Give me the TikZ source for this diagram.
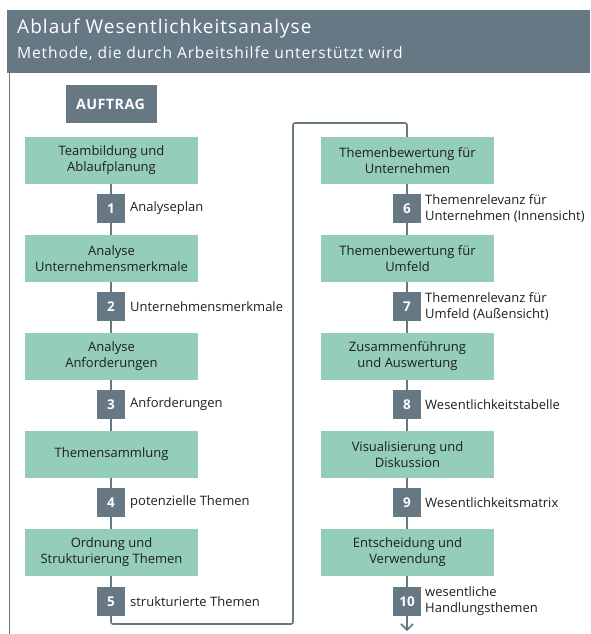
\documentclass[tikz,border=0pt]{standalone}
\usepackage{fontspec}
\setmainfont{Open Sans}
\newfontfamily\hdrfont[LetterSpace=5.5]{Open Sans}
\newfontfamily\aufont[LetterSpace=3]{Open Sans}
\usetikzlibrary{arrows.meta}
\definecolor{hdr}{HTML}{657884}
\definecolor{grn}{HTML}{94CDB8}
\definecolor{txt}{HTML}{1E1E1E}
\tikzset{
  stepbox/.style={fill=grn, minimum width=173pt, minimum height=47pt, inner sep=0pt, align=center, text=txt, font=\fontsize{13}{16}\selectfont},
  badge/.style={fill=hdr, minimum width=28pt, minimum height=29pt, inner sep=0pt, text=white, font=\fontsize{13.5}{15}\selectfont\bfseries},
  lbl/.style={anchor=west, inner sep=0pt, align=left, text=txt, font=\fontsize{13}{16}\selectfont},
  conn/.style={draw=hdr, line width=1.6pt},
}
\begin{document}
\begin{tikzpicture}[x=1pt,y=-1pt]
\useasboundingbox (0,0) rectangle (590,634);
\fill[hdr] (7,10) rectangle (590,73);
\node[anchor=base west, inner sep=0pt, text=white, font=\hdrfont\fontsize{19}{21}\selectfont] (title) at (17,34) {Ablauf Wesentlichkeitsanalyse};
\node[anchor=base west, inner sep=0pt, text=white, font=\hdrfont\fontsize{15.6}{17}\selectfont] (sub) at (17,58.3) {Methode, die durch Arbeitshilfe unterstützt wird};
\draw[conn, line width=1.4pt] (9.5,73) -- (9.5,634);
\fill[hdr] (66,85) rectangle (157,123);
\node[anchor=base, inner sep=0pt, text=white, font=\aufont\fontsize{14.3}{16}\selectfont\bfseries] (auftrag) at (110.5,109.7) {AUFTRAG};
% left column
\node[stepbox] (s1) at (111.5,160.5) {Teambildung und\\Ablaufplanung};
\node[stepbox] (s2) at (111.5,258.5) {Analyse\\Unternehmensmerkmale};
\node[stepbox] (s3) at (111.5,356.5) {Analyse\\Anforderungen};
\node[stepbox] (s4) at (111.5,454.5) {Themensammlung};
\node[stepbox] (s5) at (111.5,552.5) {Ordnung und\\Strukturierung Themen};
% right column
\node[stepbox] (s6) at (407.5,160.5) {Themenbewertung für\\Unternehmen};
\node[stepbox] (s7) at (407.5,258.5) {Themenbewertung für\\Umfeld};
\node[stepbox] (s8) at (407.5,356.5) {Zusammenführung\\und Auswertung};
\node[stepbox] (s9) at (407.5,454.5) {Visualisierung und\\Diskussion};
\node[stepbox] (s10) at (407.5,552.5) {Entscheidung und\\Verwendung};
% connectors
\coordinate (c1) at (111,624);
\coordinate (c2) at (293,624);
\coordinate (c3) at (293,123);
\coordinate (c4) at (407,123);
\coordinate (end) at (407,631);
\draw[conn] (s1.south -| 111,0) -- (s2.north -| 111,0);
\draw[conn] (s2.south -| 111,0) -- (s3.north -| 111,0);
\draw[conn] (s3.south -| 111,0) -- (s4.north -| 111,0);
\draw[conn] (s4.south -| 111,0) -- (s5.north -| 111,0);
\draw[conn, rounded corners=2pt] (s5.south -| 111,0) -- (c1) -- (c2) -- (c3) -- (c4) -- (s6.north -| 407,0);
\draw[conn] (s6.south -| 407,0) -- (s7.north -| 407,0);
\draw[conn] (s7.south -| 407,0) -- (s8.north -| 407,0);
\draw[conn] (s8.south -| 407,0) -- (s9.north -| 407,0);
\draw[conn] (s9.south -| 407,0) -- (s10.north -| 407,0);
\draw[conn, -{Straight Barb[length=6pt,width=12pt,line width=1.6pt]}] (s10.south -| 407,0) -- (end);
% badges
\node[badge] (b1) at (111,208.5) {1};
\node[badge] (b2) at (111,306.5) {2};
\node[badge] (b3) at (111,404.5) {3};
\node[badge] (b4) at (111,502.5) {4};
\node[badge] (b5) at (111,601.5) {5};
\node[badge] (b6) at (407,208.5) {6};
\node[badge] (b7) at (407,306.5) {7};
\node[badge] (b8) at (407,404.5) {8};
\node[badge] (b9) at (407,502.5) {9};
\node[badge] (b10) at (407,601.5) {10};
% labels
\node[lbl] (l1) at (130,208.5) {Analyseplan};
\node[lbl] (l2) at (130,306.5) {Unternehmensmerkmale};
\node[lbl] (l3) at (130,404.5) {Anforderungen};
\node[lbl] (l4) at (130,502.5) {potenzielle Themen};
\node[lbl] (l5) at (130,601.5) {strukturierte Themen};
\node[lbl] (l6) at (425,208.5) {Themenrelevanz für\\Unternehmen (Innensicht)};
\node[lbl] (l7) at (425,306.5) {Themenrelevanz für\\Umfeld (Außensicht)};
\node[lbl] (l8) at (425,404.5) {Wesentlichkeitstabelle};
\node[lbl] (l9) at (425,502.5) {Wesentlichkeitsmatrix};
\node[lbl] (l10) at (425,601.5) {wesentliche\\Handlungsthemen};
\end{tikzpicture}
\end{document}
